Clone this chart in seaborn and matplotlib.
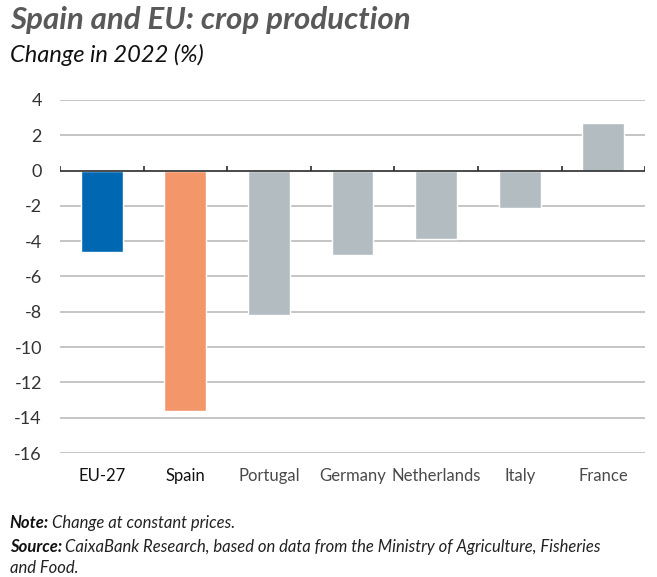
import numpy as np
import pandas as pd
import matplotlib
matplotlib.use("Agg")
import matplotlib.pyplot as plt
import seaborn as sns

countries = ["EU-27", "Spain", "Portugal", "Germany", "Netherlands", "Italy", "France"]
change_2022 = [-4.6, -13.6, -8.2, -4.8, -3.9, -2.1, 2.7]
bar_colors = ["#0068b3", "#f3976b", "#b2bcc1", "#b2bcc1", "#b2bcc1", "#b2bcc1", "#b2bcc1"]
y_ticks = list(range(-16, 5, 2))

sns.set_style("white")
plt.rcParams["font.family"] = ["Lato", "DejaVu Sans"]

df = pd.DataFrame({"country": countries, "change": change_2022})

fig = plt.figure(figsize=(6.57, 5.77), dpi=100)
ax = fig.add_axes([0.0913, 0.2149, 0.8907, 0.6118])

# gridlines behind the bars
for v in y_ticks:
    if v != 0:
        ax.axhline(v, color="#b5b5b5", lw=1.1, zorder=0)

sns.barplot(data=df, x="country", y="change", hue="country", palette=bar_colors,
            width=0.5, legend=False, ax=ax, saturation=1, zorder=2)

ax.set_ylim(-16, 4)
ax.set_xlim(-0.5, len(countries) - 0.5)
ax.set_yticks(y_ticks)
ax.set_yticklabels([str(v) for v in y_ticks])
ax.tick_params(axis="y", length=0, pad=13, labelsize=13, labelcolor="#333333")
ax.tick_params(axis="x", length=0, pad=11, labelsize=12)
for lab in ax.get_xticklabels():
    lab.set_color("#111111" if lab.get_text() in ("EU-27", "Spain") else "#4a4a4a")
ax.set_xlabel("")
ax.set_ylabel("")
sns.despine(ax=ax, left=True, bottom=True)

# zero line with small upward ticks at category boundaries
ax.axhline(0, color="#2b2b2b", lw=1.2, zorder=3)
bounds = np.arange(len(countries) + 1) - 0.5
ax.vlines(bounds, 0, 0.25, color="#2b2b2b", lw=1.2, zorder=3)

fig.text(0.015, 0.966, "Spain and EU: crop production", fontsize=22.5, fontweight="bold",
         fontstyle="italic", color="#595959", va="center")
fig.text(0.015, 0.905, "Change in 2022 (%)", fontsize=17, fontstyle="italic",
         color="#111111", va="center")


def label_line(y, head, body):
    t = fig.text(0.015, y, head, fontsize=12, fontweight="bold", fontstyle="italic",
                 va="center", color="#111111")
    fig.canvas.draw()
    bb = t.get_window_extent()
    x1 = bb.x1 / fig.bbox.width + 0.004
    fig.text(x1, y, body, fontsize=12, fontstyle="italic", va="center", color="#222222")


label_line(0.093, "Note:", "Change at constant prices.")
label_line(0.052, "Source:", "CaixaBank Research, based on data from the Ministry of Agriculture, Fisheries")
fig.text(0.015, 0.015, "and Food.", fontsize=12, fontstyle="italic", va="center", color="#222222")

fig.savefig("out.png", dpi=100)
